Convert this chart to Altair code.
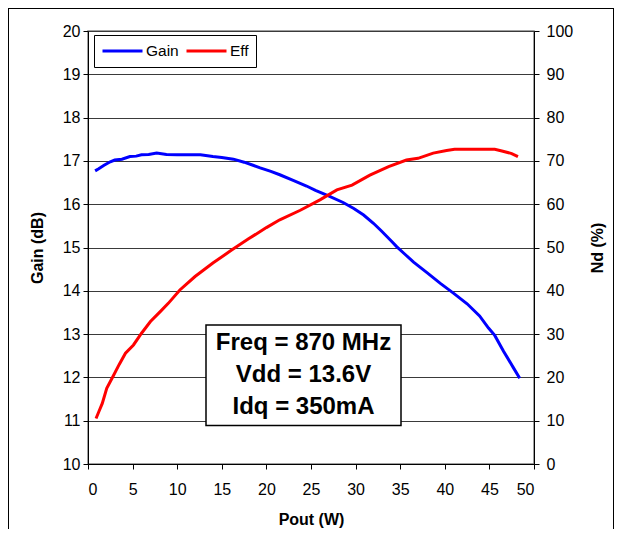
import altair as alt
import pandas as pd

# ---- data ----
gain_pout = [0.8, 1.2, 1.8, 2.5, 3.0, 3.8, 4.7, 5.4, 6.0, 6.8, 7.7, 8.8, 10.0, 11.0,
             12.6, 14.0, 15.0, 16.3, 17.5, 18.5, 19.3, 20.5, 21.5, 23.0, 24.5, 25.5,
             26.9, 28.6, 29.8, 30.9, 32.0, 32.9, 34.0, 34.6, 35.5, 36.5, 38.0, 39.5,
             41.0, 42.5, 43.9, 44.9, 45.6, 46.6, 47.7, 48.4]
gain_db = [16.77, 16.82, 16.90, 16.98, 17.02, 17.04, 17.10, 17.11, 17.14, 17.15, 17.18,
           17.15, 17.14, 17.14, 17.14, 17.10, 17.08, 17.04, 16.97, 16.90, 16.84, 16.76,
           16.68, 16.55, 16.42, 16.32, 16.20, 16.04, 15.90, 15.75, 15.56, 15.38, 15.15,
           15.02, 14.85, 14.66, 14.42, 14.17, 13.94, 13.70, 13.42, 13.14, 12.97, 12.60,
           12.22, 11.98]

eff_pout = [0.9, 1.2, 1.6, 2.1, 2.8, 3.5, 4.2, 5.1, 6.0, 7.0, 8.1, 9.0, 10.3, 12.0,
            14.0, 16.1, 18.0, 20.0, 21.5, 23.8, 26.0, 27.9, 29.6, 31.6, 33.7, 35.7,
            37.0, 38.7, 40.2, 41.1, 43.0, 45.6, 46.4, 47.5, 48.2]
eff_pct = [10.5, 12.0, 14.0, 17.5, 20.2, 23.0, 25.6, 27.5, 30.2, 32.9, 35.2, 37.1,
           40.2, 43.3, 46.4, 49.4, 52.0, 54.6, 56.4, 58.6, 61.0, 63.3, 64.4, 66.7,
           68.7, 70.2, 70.6, 71.8, 72.4, 72.7, 72.7, 72.7, 72.3, 71.7, 71.0]

series_names = ["Gain", "Eff"]
series_colors = ["#0000FF", "#FF0000"]
x_ticks = [0, 5, 10, 15, 20, 25, 30, 35, 40, 45, 50]
gain_ticks = [10, 11, 12, 13, 14, 15, 16, 17, 18, 19, 20]
eff_ticks = [0, 10, 20, 30, 40, 50, 60, 70, 80, 90, 100]
note_lines = ["Freq = 870 MHz", "Vdd = 13.6V", "Idq = 350mA"]

FONT = "Liberation Sans"

gain_df = pd.DataFrame({"pout": gain_pout, "value": gain_db, "series": "Gain"})
eff_df = pd.DataFrame({"pout": eff_pout, "value": eff_pct, "series": "Eff"})

x_enc = alt.X(
    "pout:Q",
    scale=alt.Scale(domain=[0, 50], nice=False, zero=False),
    axis=alt.Axis(values=x_ticks, title="Pout (W)", grid=False, tickSize=5,
                  labelPadding=12, titlePadding=14),
)

color_enc = alt.Color(
    "series:N",
    scale=alt.Scale(domain=series_names, range=series_colors),
    legend=alt.Legend(
        orient="none", legendX=6, legendY=4, direction="horizontal", title=None,
        symbolType="stroke", symbolStrokeWidth=3, symbolSize=1600, clipHeight=18,
        labelFontSize=15.5, labelFont=FONT, labelColor="black",
        strokeColor="black", fillColor="white", padding=7, columnPadding=6,
        labelOffset=2,
    ),
)

gain_line = alt.Chart(gain_df).mark_line(strokeWidth=3).encode(
    x=x_enc,
    y=alt.Y(
        "value:Q",
        scale=alt.Scale(domain=[10, 20], nice=False, zero=False),
        axis=alt.Axis(values=gain_ticks, title="Gain (dB)", grid=True,
                      gridColor="#3a3a3a", gridWidth=1, tickSize=5,
                      labelPadding=3, titlePadding=17),
    ),
    color=color_enc,
)

eff_line = alt.Chart(eff_df).mark_line(strokeWidth=3).encode(
    x=x_enc,
    y=alt.Y(
        "value:Q",
        scale=alt.Scale(domain=[0, 100], nice=False, zero=False),
        axis=alt.Axis(values=eff_ticks, title="Nd (%)", orient="right", grid=False,
                      tickSize=5, labelPadding=7, titlePadding=33, titleAngle=270),
    ),
    color=color_enc,
)

one_row = alt.Data(values=[{"k": 1}])

note_box = alt.Chart(one_row).mark_rect(
    fill="white", stroke="black", strokeWidth=1.5
).encode(
    x=alt.value(118), x2=alt.value(313), y=alt.value(294), y2=alt.value(394.5)
)

note_text = alt.Chart(one_row).mark_text(
    text=note_lines, font=FONT, fontSize=24, fontWeight="bold", color="black",
    align="center", baseline="middle", lineHeight=32,
).encode(x=alt.value(215.5), y=alt.value(312))

frame_top = alt.Chart(one_row).mark_rule(color="black", strokeWidth=1).encode(
    x=alt.value(-80), x2=alt.value(526), y=alt.value(-22.5)
)
frame_left = alt.Chart(one_row).mark_rule(color="black", strokeWidth=1).encode(
    x=alt.value(-79.5), y=alt.value(-23), y2=alt.value(498)
)
frame_right = alt.Chart(one_row).mark_rule(color="black", strokeWidth=1).encode(
    x=alt.value(525.5), y=alt.value(-23), y2=alt.value(498)
)

chart = (
    alt.layer(gain_line, eff_line, note_box, note_text, frame_top, frame_left, frame_right)
    .resolve_scale(y="independent")
    .properties(
        width=446, height=433,
        autosize=alt.AutoSizeParams(type="none"),
        padding={"left": 80, "top": 23, "right": 80, "bottom": 65},
    )
    .configure(font=FONT)
    .configure_view(stroke="#808080", strokeWidth=1.5)
    .configure_axis(
        labelFont=FONT, labelFontSize=16, labelColor="black",
        titleFont=FONT, titleFontSize=16, titleFontWeight="bold", titleColor="black",
        domainColor="black", domainWidth=1, tickColor="black", tickWidth=1,
    )
)

chart.save("out.html", embed_options={"renderer": "svg", "actions": False})
